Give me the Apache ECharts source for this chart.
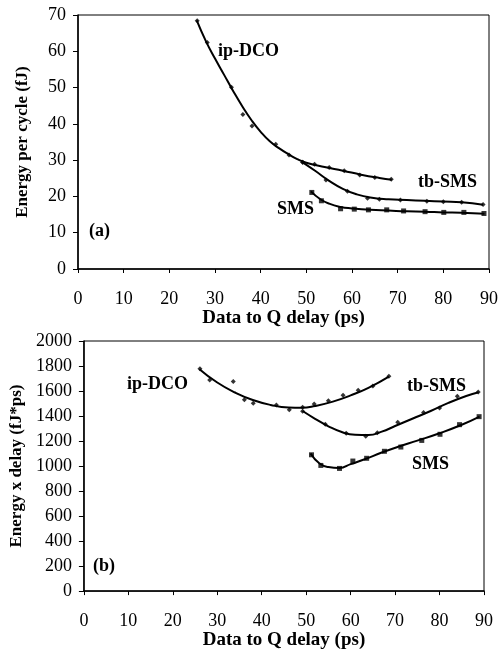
<!DOCTYPE html>
<html><head><meta charset="utf-8">
<script src="https://cdn.jsdelivr.net/npm/echarts@6/dist/echarts.min.js"></script>
<style>html,body{margin:0;padding:0;background:#fff}#c{width:501px;height:651px}</style>
</head><body><div id="c"></div>
<script>
// x tick labels / axis ranges
const xTicks = [0, 10, 20, 30, 40, 50, 60, 70, 80, 90];
const energyTicks = [0, 10, 20, 30, 40, 50, 60, 70];
const edpTicks = [0, 200, 400, 600, 800, 1000, 1200, 1400, 1600, 1800, 2000];

// measured points: ip-DCO
const delayIp  = [26.1, 28.3, 33.6, 36.1, 38.1, 43.3, 46.2, 49.2, 51.8, 55.0, 58.3, 61.7, 65.0, 68.6];
const energyIp = [68.4, 62.4, 50.1, 42.6, 39.4, 34.4, 31.4, 29.4, 28.9, 28.0, 27.1, 25.9, 25.2, 24.7];
const edpIp    = [1778, 1688, 1676, 1530, 1502, 1489, 1451, 1471, 1497, 1522, 1566, 1607, 1640, 1719];
// tb-SMS
const delayTb  = [49.2, 54.3, 59.0, 63.4, 66.0, 70.6, 76.4, 80.0, 84.0, 88.7];
const energyTb = [29.4, 24.5, 21.4, 19.5, 19.2, 19.0, 18.7, 18.5, 18.4, 17.8];
const edpTb    = [1438, 1334, 1262, 1238, 1267, 1350, 1428, 1465, 1558, 1592];
// SMS
const delaySms  = [51.2, 53.3, 57.5, 60.5, 63.6, 67.6, 71.3, 76.0, 80.1, 84.5, 88.9];
const energySms = [21.1, 18.8, 16.6, 16.5, 16.3, 16.3, 16.0, 15.8, 15.6, 15.6, 15.3];
const edpSms    = [1090, 1005, 981, 1040, 1062, 1118, 1152, 1205, 1254, 1331, 1395];

// trend curves
const trendIpEX  = [26, 28, 30, 32, 34, 36, 38, 40, 42, 44, 46, 48, 50, 54, 58, 62, 66, 68.7];
const trendIpEY  = [68.5, 62.8, 58, 53.5, 49, 44.8, 41, 37.8, 35.2, 33.3, 31.7, 30.3, 29.3, 28.1, 27.1, 26.0, 25.1, 24.6];
const trendTbEX  = [49.2, 52, 55, 58, 61, 64, 68, 72, 76, 80, 84, 88.7];
const trendTbEY  = [29.4, 27.0, 24.3, 22.1, 20.6, 19.7, 19.2, 19.0, 18.8, 18.6, 18.4, 17.7];
const trendSmsEX = [51, 53, 55, 57.5, 60, 64, 68, 72, 76, 80, 84, 89];
const trendSmsEY = [21.4, 19.3, 18.0, 17.1, 16.7, 16.3, 16.1, 15.9, 15.8, 15.6, 15.5, 15.2];

const trendIpDX  = [26, 30, 34, 38, 42, 46, 49, 52, 56, 60, 64, 68.6];
const trendIpDY  = [1775, 1668, 1588, 1528, 1489, 1468, 1466, 1480, 1515, 1565, 1625, 1715];
const trendTbDX  = [49.2, 52, 55, 58, 61, 64, 67, 70, 74, 78, 82, 86, 88.8];
const trendTbDY  = [1440, 1378, 1318, 1272, 1250, 1248, 1275, 1320, 1380, 1440, 1505, 1560, 1590];
const trendSmsDX = [51, 53, 55, 57.5, 60, 63, 67, 71, 75, 80, 85, 89];
const trendSmsDY = [1100, 1020, 992, 985, 1015, 1052, 1108, 1158, 1203, 1262, 1330, 1395];

const zip = (a, b) => a.map((v, i) => [v, b[i]]);
const FONT = '"Liberation Serif", "Times New Roman", serif';

const chart = echarts.init(document.getElementById('c'), null, {renderer: 'canvas'});

function xAx(gi) {
  return {
    gridIndex: gi, type: 'value', min: 0, max: 90, interval: 10,
    name: 'Data to Q delay (ps)', nameLocation: 'middle', nameGap: 29,
    nameTextStyle: {fontFamily: FONT, fontWeight: 'bold', fontSize: 19, color: '#000'},
    axisLine: {lineStyle: {color: '#000', width: 1.5}},
    axisTick: {inside: false, length: 4, lineStyle: {color: '#000'}},
    axisLabel: {fontFamily: FONT, fontSize: 18, color: '#000', margin: 21,
      formatter: v => String(v)},
    splitLine: {show: false}
  };
}
function yAx(gi, max, interval, name, gap) {
  return {
    gridIndex: gi, type: 'value', min: 0, max: max, interval: interval,
    name: name, nameLocation: 'middle', nameGap: gap,
    nameTextStyle: {fontFamily: FONT, fontWeight: 'bold', fontSize: 17, color: '#000'},
    axisLine: {lineStyle: {color: '#000', width: 1.5}},
    axisTick: {inside: false, length: 5, lineStyle: {color: '#000'}},
    axisLabel: {fontFamily: FONT, fontSize: 18, color: '#000', margin: 12,
      formatter: v => String(v)},
    splitLine: {show: false}
  };
}
function pts(gi, data, symbol) {
  return {type: 'scatter', xAxisIndex: gi, yAxisIndex: gi, data: data, symbol: symbol,
    symbolSize: 5, itemStyle: {color: '#000'}, z: 3};
}
function trend(gi, data) {
  return {type: 'line', xAxisIndex: gi, yAxisIndex: gi, data: data, smooth: true,
    showSymbol: false, symbol: 'none', lineStyle: {color: '#000', width: 2}, z: 2};
}
const lbl = (text, x, y) => ({type: 'text', left: x, top: y,
  style: {text: text, fontFamily: FONT, fontWeight: 'bold', fontSize: 18, fill: '#000'}});

chart.setOption({
  animation: false,
  backgroundColor: '#fff',
  grid: [
    {left: 78, top: 15, width: 411, height: 254, show: true, borderColor: '#000', borderWidth: 1},
    {left: 83, top: 341, width: 401, height: 261, show: true, borderColor: '#000', borderWidth: 1}
  ],
  xAxis: [xAx(0), xAx(1)],
  yAxis: [yAx(0, 70, 10, 'Energy per cycle (fJ)', 47), yAx(1, 2000, 200, 'Energy x delay (fJ*ps)', 52)],
  series: [
    trend(0, zip(trendIpEX, trendIpEY)),
    trend(0, zip(trendTbEX, trendTbEY)),
    trend(0, zip(trendSmsEX, trendSmsEY)),
    pts(0, zip(delayIp, energyIp), 'diamond'),
    pts(0, zip(delayTb, energyTb), 'diamond'),
    pts(0, zip(delaySms, energySms), 'rect'),
    trend(1, zip(trendIpDX, trendIpDY)),
    trend(1, zip(trendTbDX, trendTbDY)),
    trend(1, zip(trendSmsDX, trendSmsDY)),
    pts(1, zip(delayIp, edpIp), 'diamond'),
    pts(1, zip(delayTb, edpTb), 'diamond'),
    pts(1, zip(delaySms, edpSms), 'rect')
  ],
  graphic: [
    lbl('ip-DCO', 218, 42),
    lbl('tb-SMS', 418, 173),
    lbl('SMS', 277, 200),
    lbl('(a)', 89, 222),
    lbl('ip-DCO', 127, 375),
    lbl('tb-SMS', 407, 377),
    lbl('SMS', 412, 455),
    lbl('(b)', 93, 557)
  ]
});
</script></body></html>
